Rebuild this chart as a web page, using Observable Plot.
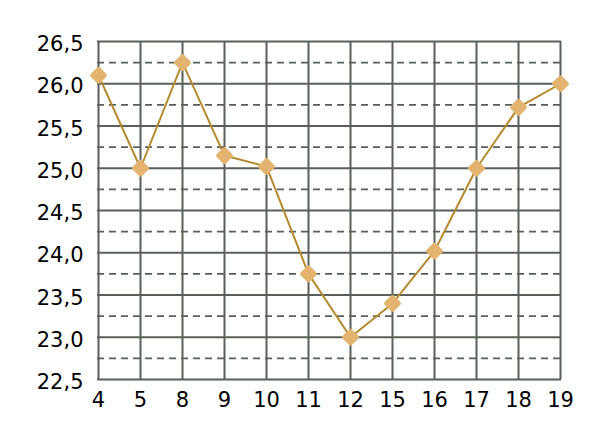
<!DOCTYPE html>
<html>
<head>
<meta charset="utf-8">
<script src="https://cdn.jsdelivr.net/npm/d3@7"></script>
<script src="https://cdn.jsdelivr.net/npm/@observablehq/plot@0.6"></script>
<style>
  html, body { margin: 0; padding: 0; background: #fff; }
</style>
</head>
<body>
<div id="chart"></div>
<script>
const xLabels = ["4", "5", "8", "9", "10", "11", "12", "15", "16", "17", "18", "19"];
const values = [26.1, 25.0, 26.25, 25.15, 25.02, 23.75, 23.0, 23.4, 24.02, 25.0, 25.72, 26.0];
const yMajorTicks = [22.5, 23.0, 23.5, 24.0, 24.5, 25.0, 25.5, 26.0, 26.5];
const yMinorTicks = [22.75, 23.25, 23.75, 24.25, 24.75, 25.25, 25.75, 26.25];

const data = xLabels.map((x, i) => ({x, y: values[i]}));

const gridColor = "#596059";

const chart = Plot.plot({
  width: 610,
  height: 446,
  marginLeft: 97,
  marginRight: 49,
  marginTop: 41,
  marginBottom: 67,
  style: {fontFamily: "DejaVu Sans", fontSize: "21px", color: "#000", background: "#fff"},
  x: {type: "point", domain: xLabels, padding: 0},
  y: {domain: [22.5, 26.5]},
  marks: [
    Plot.ruleY(yMinorTicks, {stroke: gridColor, strokeWidth: 1.8, strokeDasharray: "7,5"}),
    Plot.ruleY(yMajorTicks, {stroke: gridColor, strokeWidth: 2}),
    Plot.ruleX(xLabels, {stroke: gridColor, strokeWidth: 2}),
    Plot.line(data, {x: "x", y: "y", stroke: "#b58a2e", strokeWidth: 2}),
    Plot.dot(data, {x: "x", y: "y", symbol: "diamond2", r: 5.8, fill: "#e2b46f", stroke: "#e2b46f", strokeWidth: 4, strokeLinejoin: "round"}),
    Plot.axisY({ticks: yMajorTicks, tickSize: 0, tickPadding: 14, dy: 3, tickFormat: d => d.toFixed(1).replace(".", ","), label: null}),
    Plot.axisX({tickSize: 0, tickPadding: 13, label: null})
  ]
});
document.getElementById("chart").appendChild(chart);
</script>
</body>
</html>
